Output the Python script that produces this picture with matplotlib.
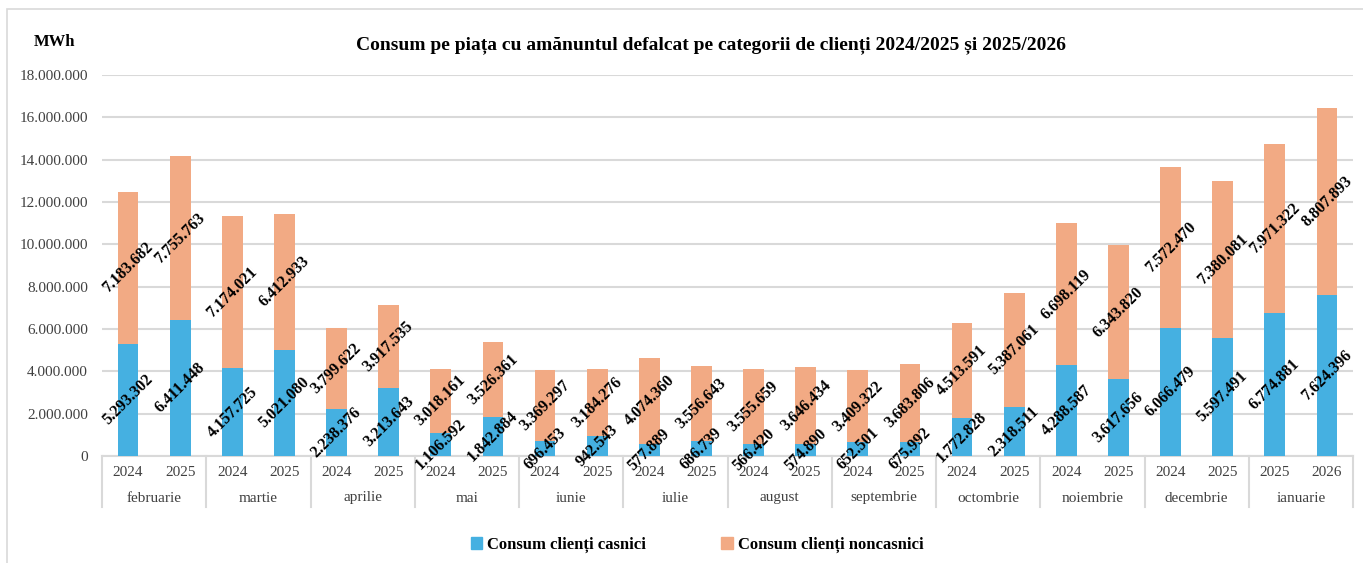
import matplotlib
matplotlib.use("Agg")
import matplotlib.pyplot as plt
from matplotlib.lines import Line2D
from matplotlib.patches import Rectangle, Patch
import numpy as np

months = ["februarie", "martie", "aprilie", "mai", "iunie", "iulie", "august",
          "septembrie", "octombrie", "noiembrie", "decembrie", "ianuarie"]
years = ["2024", "2025"] * 11 + ["2025", "2026"]
casnici = [5293302, 6411448, 4157725, 5021080, 2238376, 3213643, 1106592, 1842884,
           696453, 942543, 577889, 686739, 566420, 574890, 652501, 675992,
           1772828, 2318511, 4288587, 3617656, 6066479, 5597491, 6774881, 7624396]
noncasnici = [7183682, 7755763, 7174021, 6412933, 3799622, 3917535, 3018161, 3526361,
              3369297, 3184276, 4074360, 3556643, 3555659, 3646434, 3409322, 3683806,
              4513591, 5387061, 6698119, 6343820, 7572470, 7380081, 7971322, 8807893]
yticks = list(range(0, 18000001, 2000000))

BLUE = "#45b0e1"
ORANGE = "#f2aa84"
GRID = "#d9d9d9"
TXT = "#404040"
SERIF = ["Liberation Serif", "DejaVu Serif"]

W, H = 1363, 563
fig = plt.figure(figsize=(W / 100, H / 100), dpi=100)
plt.rcParams["font.family"] = SERIF

# figure border
fig.add_artist(Rectangle((7 / W, -0.1), 1.2, (H - 9) / H + 0.1, transform=fig.transFigure,
                         fill=False, edgecolor=GRID, linewidth=1.2))

x0, x1 = 102, 1353
y0, y1 = 456, 75
ax = fig.add_axes([x0 / W, (H - y0) / H, (x1 - x0) / W, (y0 - y1) / H])

n = len(casnici)
x = np.arange(n)
ax.bar(x, casnici, width=0.4, color=BLUE, zorder=3)
ax.bar(x, noncasnici, width=0.4, bottom=casnici, color=ORANGE, zorder=3)

ax.set_xlim(-0.5, n - 0.5)
ax.set_ylim(0, 18000000)
ax.set_yticks(yticks)
ax.set_yticklabels([f"{v:,}".replace(",", ".") for v in yticks], fontsize=11, color=TXT)
ax.tick_params(axis="y", length=0, pad=10)
ax.set_xticks([])
ax.grid(axis="y", color=GRID, linewidth=1.5, zorder=0)
for s in ["top", "right", "left"]:
    ax.spines[s].set_visible(False)
ax.spines["bottom"].set_color(GRID)
ax.spines["bottom"].set_linewidth(1.5)

def fmt(v):
    return f"{v:,}".replace(",", ".")

for i in range(n):
    ax.text(i, casnici[i] / 2, fmt(casnici[i]), rotation=45, ha="center", va="center",
            fontsize=11.5, fontweight="bold", color="black", zorder=5,
            rotation_mode="anchor")
    ax.text(i, casnici[i] + noncasnici[i] / 2, fmt(noncasnici[i]), rotation=45,
            ha="center", va="center", fontsize=11.5, fontweight="bold", color="black",
            zorder=5, rotation_mode="anchor")

# two-level category axis
trans = ax.get_xaxis_transform()
def ypix(py):
    return (y0 - py) / (y0 - y1)

for i in range(n):
    ax.text(i, ypix(472), years[i], ha="center", va="center", fontsize=11,
            color=TXT, transform=trans, clip_on=False)
for m, name in enumerate(months):
    ax.text(2 * m + 0.5, ypix(498), name, ha="center", va="center", fontsize=11,
            color=TXT, transform=trans, clip_on=False)
for m in range(len(months) + 1):
    ax.add_line(Line2D([2 * m - 0.5, 2 * m - 0.5], [0, ypix(507)], transform=trans,
                       color=GRID, linewidth=1.5, clip_on=False))

# titles
fig.text(55 / W, 1 - 42 / H, "MWh", ha="center", va="center", fontsize=12,
         fontweight="bold", color="black")
fig.text(711 / W, 1 - 45 / H,
         "Consum pe piața cu amănuntul defalcat pe categorii de clienți 2024/2025 și 2025/2026",
         ha="center", va="center", fontsize=14, fontweight="bold", color="black")

# legend
handles = [Patch(color=BLUE), Patch(color=ORANGE)]
leg = fig.legend(handles, ["Consum clienți casnici", "Consum clienți noncasnici"],
                 loc="center", bbox_to_anchor=(697 / W, 1 - 545 / H), ncol=2,
                 frameon=False, handlelength=0.7, handleheight=0.7, handletextpad=0.3,
                 columnspacing=4.5, prop={"family": SERIF, "weight": "bold", "size": 12})

fig.savefig("out.png", dpi=100)
